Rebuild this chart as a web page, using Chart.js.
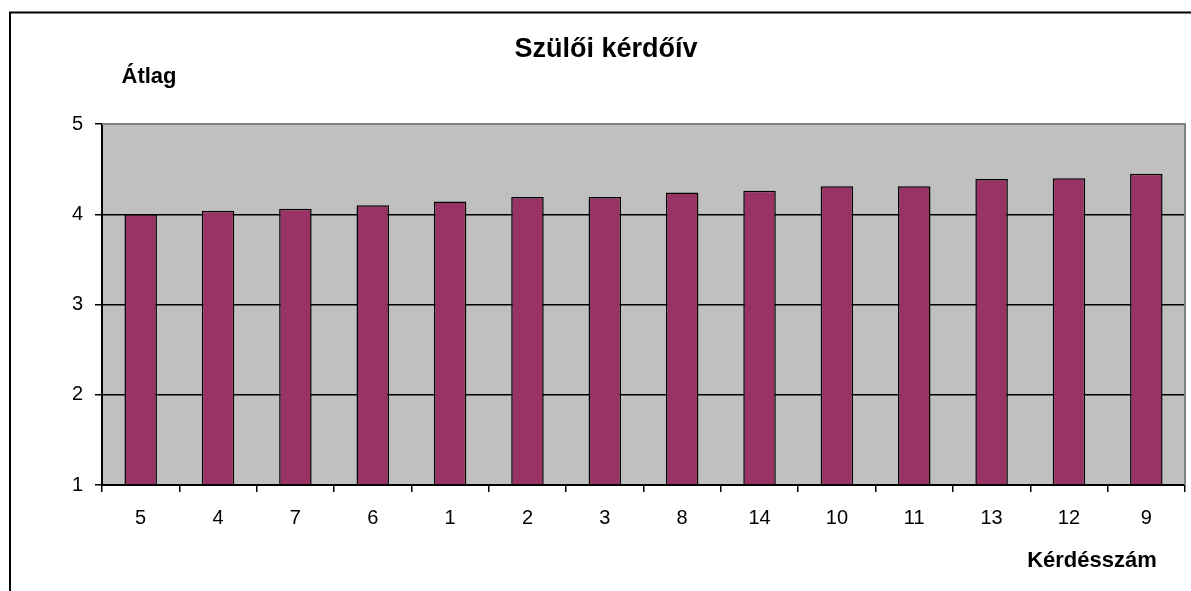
<!DOCTYPE html>
<html>
<head>
<meta charset="utf-8">
<script src="https://cdn.jsdelivr.net/npm/chart.js@4.4.0/dist/chart.umd.min.js"></script>
<style>
  html, body { margin: 0; padding: 0; background: #fff; }
  #wrap { width: 1191px; height: 591px; position: relative; }
</style>
</head>
<body>
<div id="wrap"><canvas id="myChart" width="1191" height="591"></canvas></div>
<script>
// question numbers, sorted by average
var questions = ["5", "4", "7", "6", "1", "2", "3", "8", "14", "10", "11", "13", "12", "9"];
var averages = [4.00, 4.04, 4.06, 4.10, 4.14, 4.19, 4.19, 4.24, 4.26, 4.31, 4.31, 4.39, 4.40, 4.45];
var yTicks = [1, 2, 3, 4, 5];

var chartTitle = "Szülői kérdőív";
var yTitle = "Átlag";
var xTitle = "Kérdésszám";

var fontFamily = "Arial, 'Liberation Sans', sans-serif";

// gray plot background, frame and the free-standing texts
var decor = {
    id: "decor",
    beforeDraw: function(chart) {
        var ctx = chart.ctx;
        var a = chart.chartArea;
        ctx.save();
        ctx.fillStyle = "#fff";
        ctx.fillRect(0, 0, chart.width, chart.height);
        ctx.fillStyle = "#c0c0c0";
        ctx.fillRect(a.left, a.top, a.right - a.left, a.bottom - a.top);
        ctx.restore();
    },
    afterDraw: function(chart) {
        var ctx = chart.ctx;
        var a = chart.chartArea;
        ctx.save();
        // plot frame top / right
        ctx.strokeStyle = "#808080";
        ctx.lineWidth = 2;
        ctx.beginPath();
        ctx.moveTo(a.left, a.top);
        ctx.lineTo(a.right, a.top);
        ctx.lineTo(a.right, a.bottom);
        ctx.stroke();
        // outer chart border
        ctx.strokeStyle = "#000";
        ctx.lineWidth = 2;
        ctx.beginPath();
        ctx.moveTo(10, chart.height);
        ctx.lineTo(10, 12.5);
        ctx.lineTo(chart.width, 12.5);
        ctx.stroke();
        // texts
        ctx.fillStyle = "#000";
        ctx.textAlign = "center";
        ctx.textBaseline = "middle";
        ctx.font = "bold 27px " + fontFamily;
        ctx.fillText(chartTitle, 606, 50);
        ctx.font = "bold 22px " + fontFamily;
        ctx.fillText(yTitle, 149, 77);
        ctx.fillText(xTitle, 1092, 561);
        ctx.restore();
    }
};

var ctx = document.getElementById("myChart");
var myChart = new Chart(ctx, {
    type: "bar",
    data: {
        labels: questions,
        datasets: [{
            label: chartTitle,
            data: averages,
            backgroundColor: "#993366",
            borderColor: "#000",
            borderWidth: 1.5,
            barPercentage: 0.42,
            categoryPercentage: 1.0,
            base: 1
        }]
    },
    options: {
        responsive: false,
        animation: false,
        layout: { padding: { top: 124, right: 6, left: 0, bottom: 0 } },
        plugins: {
            legend: { display: false },
            title: { display: false },
            tooltip: { enabled: false }
        },
        scales: {
            x: {
                offset: true,
                grid: {
                    offset: true,
                    drawOnChartArea: false,
                    drawTicks: true,
                    tickLength: 7,
                    color: "#000",
                    lineWidth: 1.5
                },
                border: { color: "#000", width: 2 },
                ticks: {
                    color: "#000",
                    padding: 14,
                    font: { family: fontFamily, size: 20 },
                    maxRotation: 0,
                    autoSkip: false
                },
                afterFit: function(scale) { scale.height = 106; }
            },
            y: {
                min: 1,
                max: 5,
                afterBuildTicks: function(scale) {
                    scale.ticks = yTicks.map(function(v) { return { value: v }; });
                },
                grid: {
                    color: function(c) { return c.tick && c.tick.value === 5 ? "rgba(0,0,0,0)" : "#000"; },
                    tickColor: "#000",
                    lineWidth: 1.5,
                    tickLength: 7
                },
                border: { color: "#000", width: 2 },
                ticks: {
                    color: "#000",
                    padding: 12,
                    font: { family: fontFamily, size: 20 }
                },
                afterFit: function(scale) { scale.width = 102; }
            }
        }
    },
    plugins: [decor]
});
</script>
</body>
</html>
